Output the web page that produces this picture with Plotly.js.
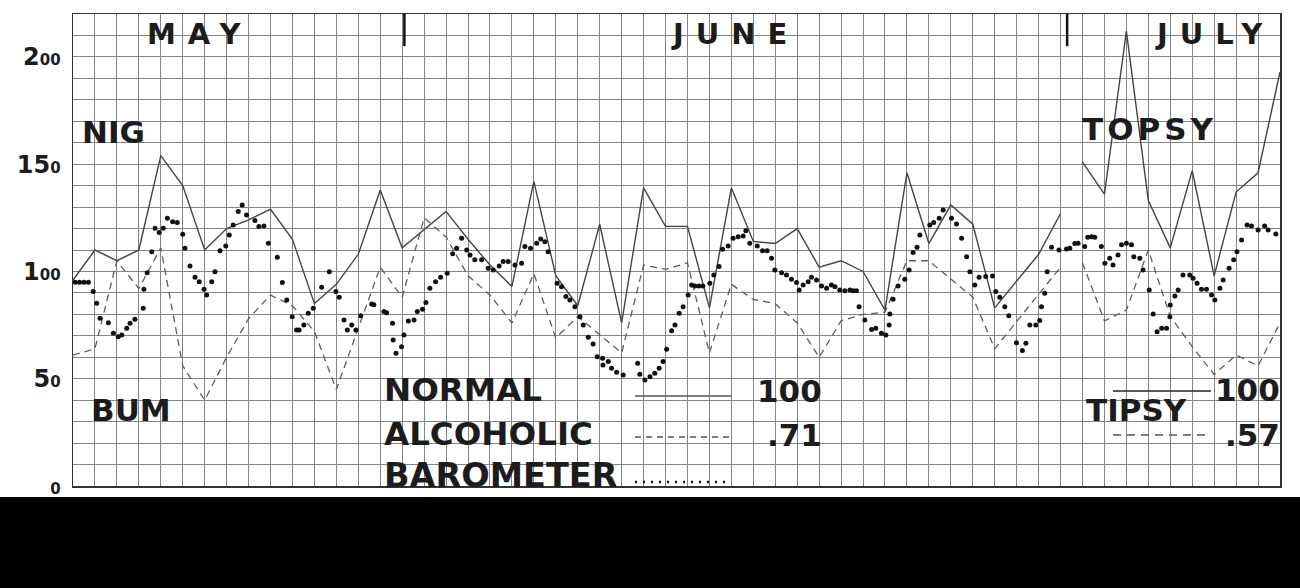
<!DOCTYPE html>
<html>
<head>
<meta charset="utf-8">
<script src="https://cdn.plot.ly/plotly-3.0.1.min.js"></script>
<style>
  html, body { margin: 0; padding: 0; background: #fff; }
  #chart { width: 1300px; height: 588px; }
</style>
</head>
<body>
<div id="chart"></div>
<script>
// ---- data (x = day index from left edge of the sheet, one grid column per day) ----
const monthNames = ["MAY", "JUNE", "JULY"];
const monthStartDays = [15.1, 45.3];

const normalDays = [0,1,2,3,4,5,6,7,8,9,10,11,12,13,14,15,17,18,19,20,21,22,23,24,25,26,27,28,29,30,31,32,33,34,35,36,37,38,39,40,41,42,44,45];
const normalVals = [96,110,105,110,154,140,110,120,124,129,115,85,94,108,138,111,128,115,103,93,142,98,84,122,76,139,121,121,83,139,114,113,120,102,105,100,82,146,113,131,122,83,108,127];

const alcoholicDays = [0,1,2,3,4,5,6,7,8,9,10,11,12,14,15,16,17,18,19,20,21,22,23,25,26,27,28,29,30,31,32,33,34,35,36,37,38,39,41,42,45];
const alcoholicVals = [61,64,105,92,111,56,40,60,78,89,84,72,45,102,88,125,116,98,89,76,99,69,79,62,103,101,104,62,94,87,85,76,60,77,80,81,105,105,88,64,102];

const topsyDays = [46,47,48,49,50,51,52,53,54,55];
const topsyVals = [151,136,212,133,111,147,98,137,146,193];

const tipsyDays = [46,47,48,49,50,51,52,53,54,55];
const tipsyVals = [104,77,82,110,79,65,52,61,56,76];

const baroDays = [0.1,0.3,0.5,0.7,0.92,1.08,1.23,1.61,1.84,2.06,2.22,2.45,2.60,2.82,3.20,3.23,3.38,3.59,3.74,3.93,4.11,4.30,4.54,4.75,5.00,5.10,5.33,5.56,5.75,5.97,6.09,6.32,6.47,6.70,6.96,7.12,7.30,7.53,7.71,7.91,8.29,8.47,8.70,8.90,9.31,9.54,9.74,9.99,10.19,10.30,10.52,10.72,10.95,11.33,11.68,11.98,12.13,12.35,12.50,12.70,12.89,13.11,13.61,13.71,14.17,14.29,14.56,14.59,14.72,14.97,15.08,15.28,15.54,15.69,15.93,16.08,16.26,16.52,16.75,17.05,17.30,17.48,17.71,17.94,18.09,18.31,18.62,18.92,19.15,19.42,19.60,19.83,20.14,20.44,20.59,20.85,21.13,21.31,21.50,21.65,22.06,22.26,22.46,22.64,22.87,23.10,23.25,23.48,23.70,23.89,24.13,24.15,24.39,24.54,24.77,25.07,25.73,25.83,26.06,26.29,26.51,26.71,26.89,27.05,27.28,27.43,27.62,27.80,28.03,28.19,28.34,28.52,28.70,29.02,29.20,29.44,29.60,29.85,30.08,30.31,30.54,30.66,30.84,31.18,31.42,31.63,31.83,31.98,32.29,32.51,32.74,32.97,33.09,33.27,33.50,33.65,33.88,34.11,34.34,34.56,34.72,34.94,35.17,35.40,35.55,35.70,35.82,36.08,36.39,36.58,36.84,37.04,37.19,37.22,37.37,37.60,37.90,38.10,38.28,38.46,38.59,39.04,39.22,39.47,39.65,40.03,40.26,40.49,40.72,40.87,41.09,41.29,41.59,41.90,42.05,42.23,42.46,42.64,42.99,43.26,43.42,43.60,43.87,44.05,44.13,44.28,44.39,44.59,44.93,45.27,45.42,45.65,45.80,46.10,46.24,46.41,46.56,46.86,47.02,47.24,47.39,47.62,47.78,48.00,48.23,48.34,48.61,48.76,49.04,49.22,49.40,49.61,49.83,49.98,50.00,50.21,50.36,50.58,50.89,51.04,51.22,51.42,51.65,51.88,52.03,52.26,52.41,52.68,52.89,53.04,53.25,53.50,53.70,54.00,54.30,54.46,54.81];
const baroVals = [95,95,95,95,90.6,85.2,78.2,76.1,71.2,69.6,70.4,73.5,75.8,77.7,82.8,91.7,99.4,109.2,120.1,118.1,120.1,124.8,123.2,122.8,117.3,110.8,102.6,97.3,95.2,91.7,89,95.2,99.9,109.7,111.9,117,121.7,127.9,131,126.3,123.7,120.9,121.2,113.1,106.6,94.8,86.7,78.9,72.7,72.7,75.1,80.5,82.8,92.6,99.9,90.6,88,77.4,72.7,75.1,72.7,79.3,84.8,84.5,81.3,80.8,75.8,68.1,61.9,64.9,70.4,76.9,77.4,81.3,82.4,85.5,92.2,95.2,97.3,99.2,108.2,110.8,115.5,110,107.7,105.4,105.4,101.5,100.7,102.6,104.6,104.6,103,103.8,111.6,110.8,113.1,115.1,113.9,109.2,94.5,92.9,88.3,86.7,83.6,78.9,75.1,69.3,66.2,60.3,59.5,56.4,58,54.9,53,51.7,57.2,52.1,49.4,50.9,52.5,54.9,58,63.7,72.4,75.1,80.5,83.6,89,93.7,93.2,93.2,93.2,94.5,98.4,102.3,110.3,111.9,115.5,116.2,116.5,119,113.1,111.9,109.7,109.7,106.1,100.7,99.4,98.4,96.4,94.8,91.4,93.7,95.2,97.3,96,93.2,92.2,93.7,92.9,91.4,91,91.4,91,91,83.6,77.4,73,73.5,71.2,70.4,75.1,80.2,87,93.2,96.4,100.7,108.8,111.3,117,121.7,122.8,124.8,128.7,124.8,122.1,115.5,106.9,99.9,93.7,97.3,97.6,97.9,90.6,88,83.6,79.3,66.8,63.1,66.5,75.1,75.1,77.1,83.6,89.8,99.9,111.3,110,110.5,110.8,113,113.1,111.6,116,116.2,116,111.6,103.8,106.1,103,107.7,112.4,113.1,112.4,106.9,106.1,100.7,91.4,80.2,71.9,73.5,73.5,78.9,84.4,88.6,91.4,98.4,98.4,96.8,94.5,91.7,91.7,89,86.7,92.2,96,101.5,105.4,109.2,114.7,121.7,121.2,119.3,121.2,119.3,117.5];

const yTickVals = [0,50,100,150,200];
const yTickText = ["<span style='font-size:15px'>0</span>", "5<span style='font-size:15px'>0</span>", "1<span style='font-size:15px'>00</span>", "15<span style='font-size:15px'>0</span>", "2<span style='font-size:15px'>00</span>"];

const legendLeft = [
  {label: "NORMAL", ratio: "100", dash: "solid"},
  {label: "ALCOHOLIC", ratio: ".71", dash: "dash"},
  {label: "BAROMETER", ratio: "", dash: "dot"}
];
const sideLabels = [
  {text: "NIG", px: 113, py: 132},
  {text: "BUM", px: 131, py: 410},
  {text: "TOPSY", px: 1150, py: 129},
  {text: "TIPSY", px: 1136, py: 410}
];

// ---- layout helpers (pixel -> paper) ----
const PL = 73, PR = 1280, PT = 14, PB = 486;
const xp = px => (px - PL) / (PR - PL);
const yp = py => (PB - py) / (PB - PT);

const ink = "#1c1c1c";
const FONT = "DejaVu Sans";

const gridVals = [];
for (let v = 0; v <= 220; v += 10) gridVals.push(v);
const gridText = gridVals.map(v => {
  const i = yTickVals.indexOf(v);
  return i >= 0 ? yTickText[i] : "";
});

const traces = [
  {x: alcoholicDays, y: alcoholicVals, mode: "lines", line: {color: "#5e5e5e", width: 1.3, dash: "7px,5px"}, hoverinfo: "skip"},
  {x: tipsyDays, y: tipsyVals, mode: "lines", line: {color: "#5e5e5e", width: 1.3, dash: "7px,5px"}, hoverinfo: "skip"},
  {x: normalDays, y: normalVals, mode: "lines", line: {color: "#444", width: 1.4}, hoverinfo: "skip"},
  {x: topsyDays, y: topsyVals, mode: "lines", line: {color: "#444", width: 1.4}, hoverinfo: "skip"},
  {x: baroDays, y: baroVals, mode: "markers", marker: {color: "#111", size: 5}, hoverinfo: "skip"}
];

const annotations = [];
const shapes = [];

const monthCenters = [200, 735, 1215];
monthNames.forEach((m, i) => {
  annotations.push({text: m, xref: "paper", yref: "paper", x: xp(monthCenters[i]), y: yp(34),
    xanchor: "center", yanchor: "middle", showarrow: false,
    font: {family: FONT, size: 29, color: ink, weight: "bold"}});
});
monthStartDays.forEach(d => {
  shapes.push({type: "line", xref: "x", yref: "y", x0: d, x1: d, y0: 220, y1: 205,
    line: {color: "#111", width: 2.5}});
});

sideLabels.forEach(s => {
  annotations.push({text: s.text, xref: "paper", yref: "paper", x: xp(s.px), y: yp(s.py),
    xanchor: "center", yanchor: "middle", showarrow: false,
    font: {family: FONT, size: 31, color: ink, weight: "bold"}});
});

const legRowsY = [390, 434, 475];
const legLineY = [396, 437, 482];
legendLeft.forEach((r, i) => {
  annotations.push({text: r.label, xref: "paper", yref: "paper", x: xp(382), y: yp(legRowsY[i]),
    xanchor: "left", yanchor: "middle", showarrow: false,
    font: {family: FONT, size: i === 2 ? 33.5 : 32.5, color: ink, weight: "bold"}});
  if (r.ratio) {
    annotations.push({text: r.ratio, xref: "paper", yref: "paper", x: xp(824), y: yp(legRowsY[i] + 1),
      xanchor: "right", yanchor: "middle", showarrow: false,
      font: {family: FONT, size: 31, color: ink, weight: "bold"}});
  }
  shapes.push({type: "line", xref: "paper", yref: "paper", x0: xp(635), x1: xp(731),
    y0: yp(legLineY[i]), y1: yp(legLineY[i]),
    line: {color: r.dash === "dot" ? "#111" : "#555", width: r.dash === "dot" ? 2.5 : 1.4,
      dash: r.dash === "dash" ? "6px,5px" : (r.dash === "dot" ? "2px,6px" : "solid")}});
});

annotations.push({text: "100", xref: "paper", yref: "paper", x: xp(1282), y: yp(390),
  xanchor: "right", yanchor: "middle", showarrow: false,
  font: {family: FONT, size: 31, color: ink, weight: "bold"}});
annotations.push({text: ".57", xref: "paper", yref: "paper", x: xp(1282), y: yp(435),
  xanchor: "right", yanchor: "middle", showarrow: false,
  font: {family: FONT, size: 31, color: ink, weight: "bold"}});
shapes.push({type: "line", xref: "paper", yref: "paper", x0: xp(1113), x1: xp(1211), y0: yp(391), y1: yp(391),
  line: {color: "#222", width: 1.6}});
shapes.push({type: "line", xref: "paper", yref: "paper", x0: xp(1113), x1: xp(1211), y0: yp(435), y1: yp(435),
  line: {color: "#555", width: 1.4, dash: "8px,6px"}});

shapes.push({type: "rect", xref: "paper", yref: "paper", x0: xp(0), x1: xp(1300), y0: yp(497), y1: yp(600),
  fillcolor: "#000", line: {width: 0}, layer: "above"});

const layout = {
  width: 1300, height: 588, autosize: false,
  margin: {l: PL, r: 1300 - PR, t: PT, b: 588 - PB, pad: 0},
  paper_bgcolor: "#ffffff", plot_bgcolor: "#ffffff",
  showlegend: false,
  xaxis: {range: [0, 55], dtick: 1, tick0: 0, showticklabels: false, ticks: "",
    showgrid: true, gridcolor: "#858585", gridwidth: 1, zeroline: false,
    showline: true, linecolor: "#333", linewidth: 1.5, mirror: true, fixedrange: true},
  yaxis: {range: [0, 220], tickmode: "array", tickvals: gridVals, ticktext: gridText, ticks: "",
    showgrid: true, gridcolor: "#858585", gridwidth: 1, zeroline: false,
    showline: true, linecolor: "#333", linewidth: 1.5, mirror: true, fixedrange: true,
    ticklabelstandoff: 6,
    tickfont: {family: FONT, size: 24, color: ink, weight: "bold"}},
  annotations: annotations,
  shapes: shapes
};

Plotly.newPlot("chart", traces, layout, {staticPlot: true, displayModeBar: false}).then(() => {
  document.querySelectorAll(".annotation-text").forEach(t => {
    const s = t.textContent;
    if (monthNames.indexOf(s) >= 0) t.style.letterSpacing = "12px";
    if (s === "TOPSY") t.style.letterSpacing = "4px";
  });
});
</script>
</body>
</html>
